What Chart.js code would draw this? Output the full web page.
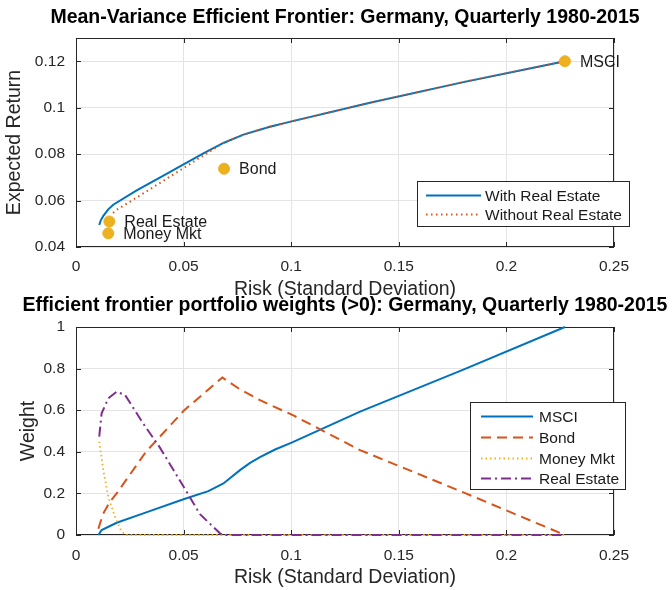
<!DOCTYPE html>
<html>
<head>
<meta charset="utf-8">
<title>Efficient frontier</title>
<script src="https://cdn.jsdelivr.net/npm/chart.js@4"></script>
<style>
  html, body { margin: 0; padding: 0; background: #fff; }
  #wrap { position: relative; width: 672px; height: 590px; overflow: hidden; }
  .pane { position: absolute; left: 0; width: 672px; height: 300px; }
  #topPane { top: 0; }
  #bottomPane { top: 290px; }
</style>
</head>
<body>
<div id="wrap">
  <div class="pane" id="topPane"><canvas id="frontierChart"></canvas></div>
  <div class="pane" id="bottomPane"><canvas id="weightsChart"></canvas></div>
</div>
<script>
// frontier, all four assets
const riskWithRE   = [0.0108, 0.0115, 0.0127, 0.0150, 0.0173, 0.0282, 0.0400, 0.0506, 0.0592, 0.0685, 0.0778, 0.0901, 0.1002, 0.1366, 0.1800, 0.2272];
const returnWithRE = [0.0495, 0.0515, 0.0534, 0.0562, 0.0582, 0.0644, 0.0704, 0.0759, 0.0803, 0.0848, 0.0884, 0.0918, 0.0941, 0.1021, 0.1110, 0.1200];

// frontier without real estate
const riskNoRE   = [0.0172, 0.0189, 0.0282, 0.0437, 0.0561, 0.0685, 0.0778, 0.0901, 0.1002, 0.1366, 0.1800, 0.2272];
const returnNoRE = [0.0547, 0.0560, 0.0613, 0.0703, 0.0776, 0.0848, 0.0884, 0.0918, 0.0941, 0.1021, 0.1110, 0.1200];

// single assets
const assetNames  = ['MSCI', 'Bond', 'Real Estate', 'Money Mkt'];
const assetRisk   = [0.2272, 0.0688, 0.0155, 0.0150];
const assetReturn = [0.1200, 0.0737, 0.0510, 0.0459];

// portfolio weights along the frontier
const msciRisk   = [0.0104, 0.0119, 0.0189, 0.0313, 0.0503, 0.0615, 0.0685, 0.0762, 0.0809, 0.0855, 0.0925, 0.1002, 0.1320, 0.1800, 0.2272];
const msciWeight = [0, 0.024, 0.059, 0.104, 0.173, 0.211, 0.248, 0.312, 0.347, 0.374, 0.411, 0.444, 0.593, 0.795, 1.0];

const bondRisk   = [0.0104, 0.0125, 0.0158, 0.0189, 0.0325, 0.0503, 0.0680, 0.0762, 0.0855, 0.1010, 0.1320, 0.1800, 0.2272];
const bondWeight = [0.03, 0.10, 0.16, 0.20, 0.40, 0.60, 0.757, 0.700, 0.648, 0.575, 0.408, 0.205, 0];

const mmRisk   = [0.0108, 0.0127, 0.0150, 0.0181, 0.0210, 0.0230, 0.2272];
const mmWeight = [0.449, 0.312, 0.184, 0.088, 0.020, 0, 0];

const reRisk   = [0.0108, 0.0119, 0.0150, 0.0189, 0.0228, 0.0313, 0.0390, 0.0503, 0.0576, 0.0669, 0.0685, 0.2272];
const reWeight = [0.473, 0.585, 0.657, 0.689, 0.673, 0.535, 0.420, 0.227, 0.100, 0.008, 0, 0];

// tick labels
const riskTicks   = [0, 0.05, 0.1, 0.15, 0.2, 0.25];
const returnTicks = [0.04, 0.06, 0.08, 0.1, 0.12];
const weightTicks = [0, 0.2, 0.4, 0.6, 0.8, 1];

const FONT = "'Liberation Sans', Arial, Helvetica, sans-serif";
Chart.defaults.font.family = FONT;
Chart.defaults.color = '#262626';

const pts = (xs, ys) => xs.map((x, i) => ({ x, y: ys[i] }));
const fmt = v => String(Number(v.toFixed(4)));

// box round the axes, with small inward tick marks like the original
const axesBox = {
  id: 'axesBox',
  beforeDatasetsDraw(chart) {
    const { ctx, chartArea: a, scales: { x, y } } = chart;
    ctx.save();
    ctx.strokeStyle = '#262626';
    ctx.lineWidth = 1;
    ctx.strokeRect(a.left + 0.5, a.top + 0.5, a.width - 1, a.height - 1);
    ctx.beginPath();
    x.ticks.forEach(t => {
      const px = Math.round(x.getPixelForValue(t.value)) + 0.5;
      ctx.moveTo(px, a.bottom); ctx.lineTo(px, a.bottom - 5);
      ctx.moveTo(px, a.top); ctx.lineTo(px, a.top + 5);
    });
    y.ticks.forEach(t => {
      const py = Math.round(y.getPixelForValue(t.value)) + 0.5;
      ctx.moveTo(a.left, py); ctx.lineTo(a.left + 5, py);
      ctx.moveTo(a.right, py); ctx.lineTo(a.right - 5, py);
    });
    ctx.stroke();
    ctx.restore();
  }
};

// text next to the asset markers
const pointLabels = {
  id: 'pointLabels',
  afterDatasetsDraw(chart) {
    const { ctx } = chart;
    chart.data.datasets.forEach((ds, i) => {
      if (!ds.names) return;
      const meta = chart.getDatasetMeta(i);
      ctx.save();
      ctx.font = '16px ' + FONT;
      ctx.fillStyle = '#1a1a1a';
      ctx.textBaseline = 'middle';
      meta.data.forEach((el, j) => ctx.fillText(ds.names[j], el.x + 15, el.y + 1));
      ctx.restore();
    });
  }
};

// matlab style boxed legend
const boxLegend = {
  id: 'boxLegend',
  afterDraw(chart, args, o) {
    const { ctx } = chart;
    const items = chart.data.datasets.filter(d => d.showLine !== false);
    ctx.save();
    ctx.fillStyle = '#fff';
    ctx.fillRect(o.left, o.top, o.width, o.height);
    ctx.strokeStyle = '#262626';
    ctx.lineWidth = 1;
    ctx.strokeRect(o.left + 0.5, o.top + 0.5, o.width, o.height);
    ctx.font = o.fontSize + 'px ' + FONT;
    ctx.textBaseline = 'middle';
    items.forEach((d, i) => {
      const cy = Math.round(o.top + o.firstRow + i * o.rowGap) + 0.5;
      ctx.strokeStyle = d.borderColor;
      ctx.lineWidth = d.borderWidth;
      ctx.setLineDash(d.borderDash || []);
      ctx.beginPath();
      ctx.moveTo(o.left + o.lineStart, cy);
      ctx.lineTo(o.left + o.lineEnd, cy);
      ctx.stroke();
      ctx.setLineDash([]);
      ctx.fillStyle = '#1a1a1a';
      ctx.fillText(d.label, o.left + o.textStart, cy + 1);
    });
    ctx.restore();
  }
};

function axis(ticks, min, max, title, extra) {
  return Object.assign({
    type: 'linear',
    min, max,
    afterBuildTicks: s => { s.ticks = ticks.map(v => ({ value: v })); },
    ticks: { callback: v => fmt(v), font: { size: 15.5 }, color: '#262626', autoSkip: false, maxRotation: 0, padding: 10 },
    grid: { color: '#e4e4e4', drawTicks: false },
    border: { display: false },
    title: { display: true, text: title, font: { size: 19.5, lineHeight: 1 }, color: '#262626' }
  }, extra);
}

// empty axis on the right, only reserves the margin so the title can use the full width
const spacer = {
  position: 'right', display: true,
  ticks: { display: false }, grid: { display: false }, border: { display: false },
  afterFit: s => { s.width = 58; }
};

function lineSet(label, xs, ys, color, dash, order, width) {
  return {
    label, data: pts(xs, ys),
    borderColor: color, backgroundColor: color,
    borderWidth: width || 2, borderDash: dash,
    pointRadius: 0, tension: 0, clip: false, order
  };
}

const frontierChart = new Chart(document.getElementById('frontierChart'), {
  type: 'line',
  data: {
    datasets: [
      lineSet('With Real Estate', riskWithRE, returnWithRE, '#0072BD', [], 2),
      lineSet('Without Real Estate', riskNoRE, returnNoRE, '#D95319', [1.5, 3.5], 1),
      {
        label: 'Assets', names: assetNames, data: pts(assetRisk, assetReturn),
        showLine: false, pointRadius: 5.5, pointBackgroundColor: '#EDB120',
        pointBorderColor: '#EDB120', clip: false, order: 0
      }
    ]
  },
  options: {
    responsive: true,
    maintainAspectRatio: false,
    animation: false,
    events: [],
    layout: { padding: { left: 18, right: 0, top: 0, bottom: 0 } },
    scales: {
      x: axis(riskTicks, 0, 0.25, 'Risk (Standard Deviation)', { afterFit: s => { s.height = 53; } }),
      y: axis(returnTicks, 0.04, 0.13, 'Expected Return', { afterFit: s => { s.width = 58; } }),
      y2: spacer
    },
    plugins: {
      legend: { display: false },
      tooltip: { enabled: false },
      title: {
        display: true,
        text: 'Mean-Variance Efficient Frontier: Germany, Quarterly 1980-2015',
        font: { size: 19.5, weight: 'bold' }, color: '#000',
        padding: { top: 6.3, bottom: 8.3 }
      },
      boxLegend: { left: 417, top: 181, width: 212, height: 45, firstRow: 14, rowGap: 19.3, lineStart: 9, lineEnd: 64, textStart: 68, fontSize: 15.5 }
    }
  },
  plugins: [axesBox, pointLabels, boxLegend]
});
frontierChart.options.scales.y.ticks.padding = 11;
frontierChart.options.scales.x.title.padding = { top: 0, bottom: 0.5 };
frontierChart.options.scales.y.title.padding = { top: -12.75, bottom: 0 };
frontierChart.update();

const weightsChart = new Chart(document.getElementById('weightsChart'), {
  type: 'line',
  data: {
    datasets: [
      lineSet('MSCI', msciRisk, msciWeight, '#0072BD', [], 4),
      lineSet('Bond', bondRisk, bondWeight, '#D95319', [10, 6], 3),
      lineSet('Money Mkt', mmRisk, mmWeight, '#EDB120', [1.5, 3], 2, 1.8),
      lineSet('Real Estate', reRisk, reWeight, '#7E2F8E', [10, 4, 2, 4], 1)
    ]
  },
  options: {
    responsive: true,
    maintainAspectRatio: false,
    animation: false,
    events: [],
    layout: { padding: { left: 18, right: 0, top: 0, bottom: 0 } },
    scales: {
      x: axis(riskTicks, 0, 0.25, 'Risk (Standard Deviation)', { afterFit: s => { s.height = 55; } }),
      y: axis(weightTicks, 0, 1, 'Weight', { afterFit: s => { s.width = 58; } }),
      y2: spacer
    },
    plugins: {
      legend: { display: false },
      tooltip: { enabled: false },
      title: {
        display: true,
        text: 'Efficient frontier portfolio weights (>0): Germany, Quarterly 1980-2015',
        font: { size: 19.5, weight: 'bold' }, color: '#000',
        padding: { top: 3.8, bottom: 9.8 }
      },
      boxLegend: { left: 470, top: 112, width: 155, height: 87, firstRow: 14, rowGap: 20.8, lineStart: 11, lineEnd: 63, textStart: 69, fontSize: 15.5 }
    }
  },
  plugins: [axesBox, boxLegend]
});
weightsChart.options.scales.x.ticks.padding = 11;
weightsChart.options.scales.y.ticks.padding = 11;
weightsChart.options.scales.x.title.padding = { top: 0, bottom: 2.2 };
weightsChart.options.scales.y.title.padding = { top: 1.25, bottom: 0 };
weightsChart.update();
</script>
</body>
</html>
